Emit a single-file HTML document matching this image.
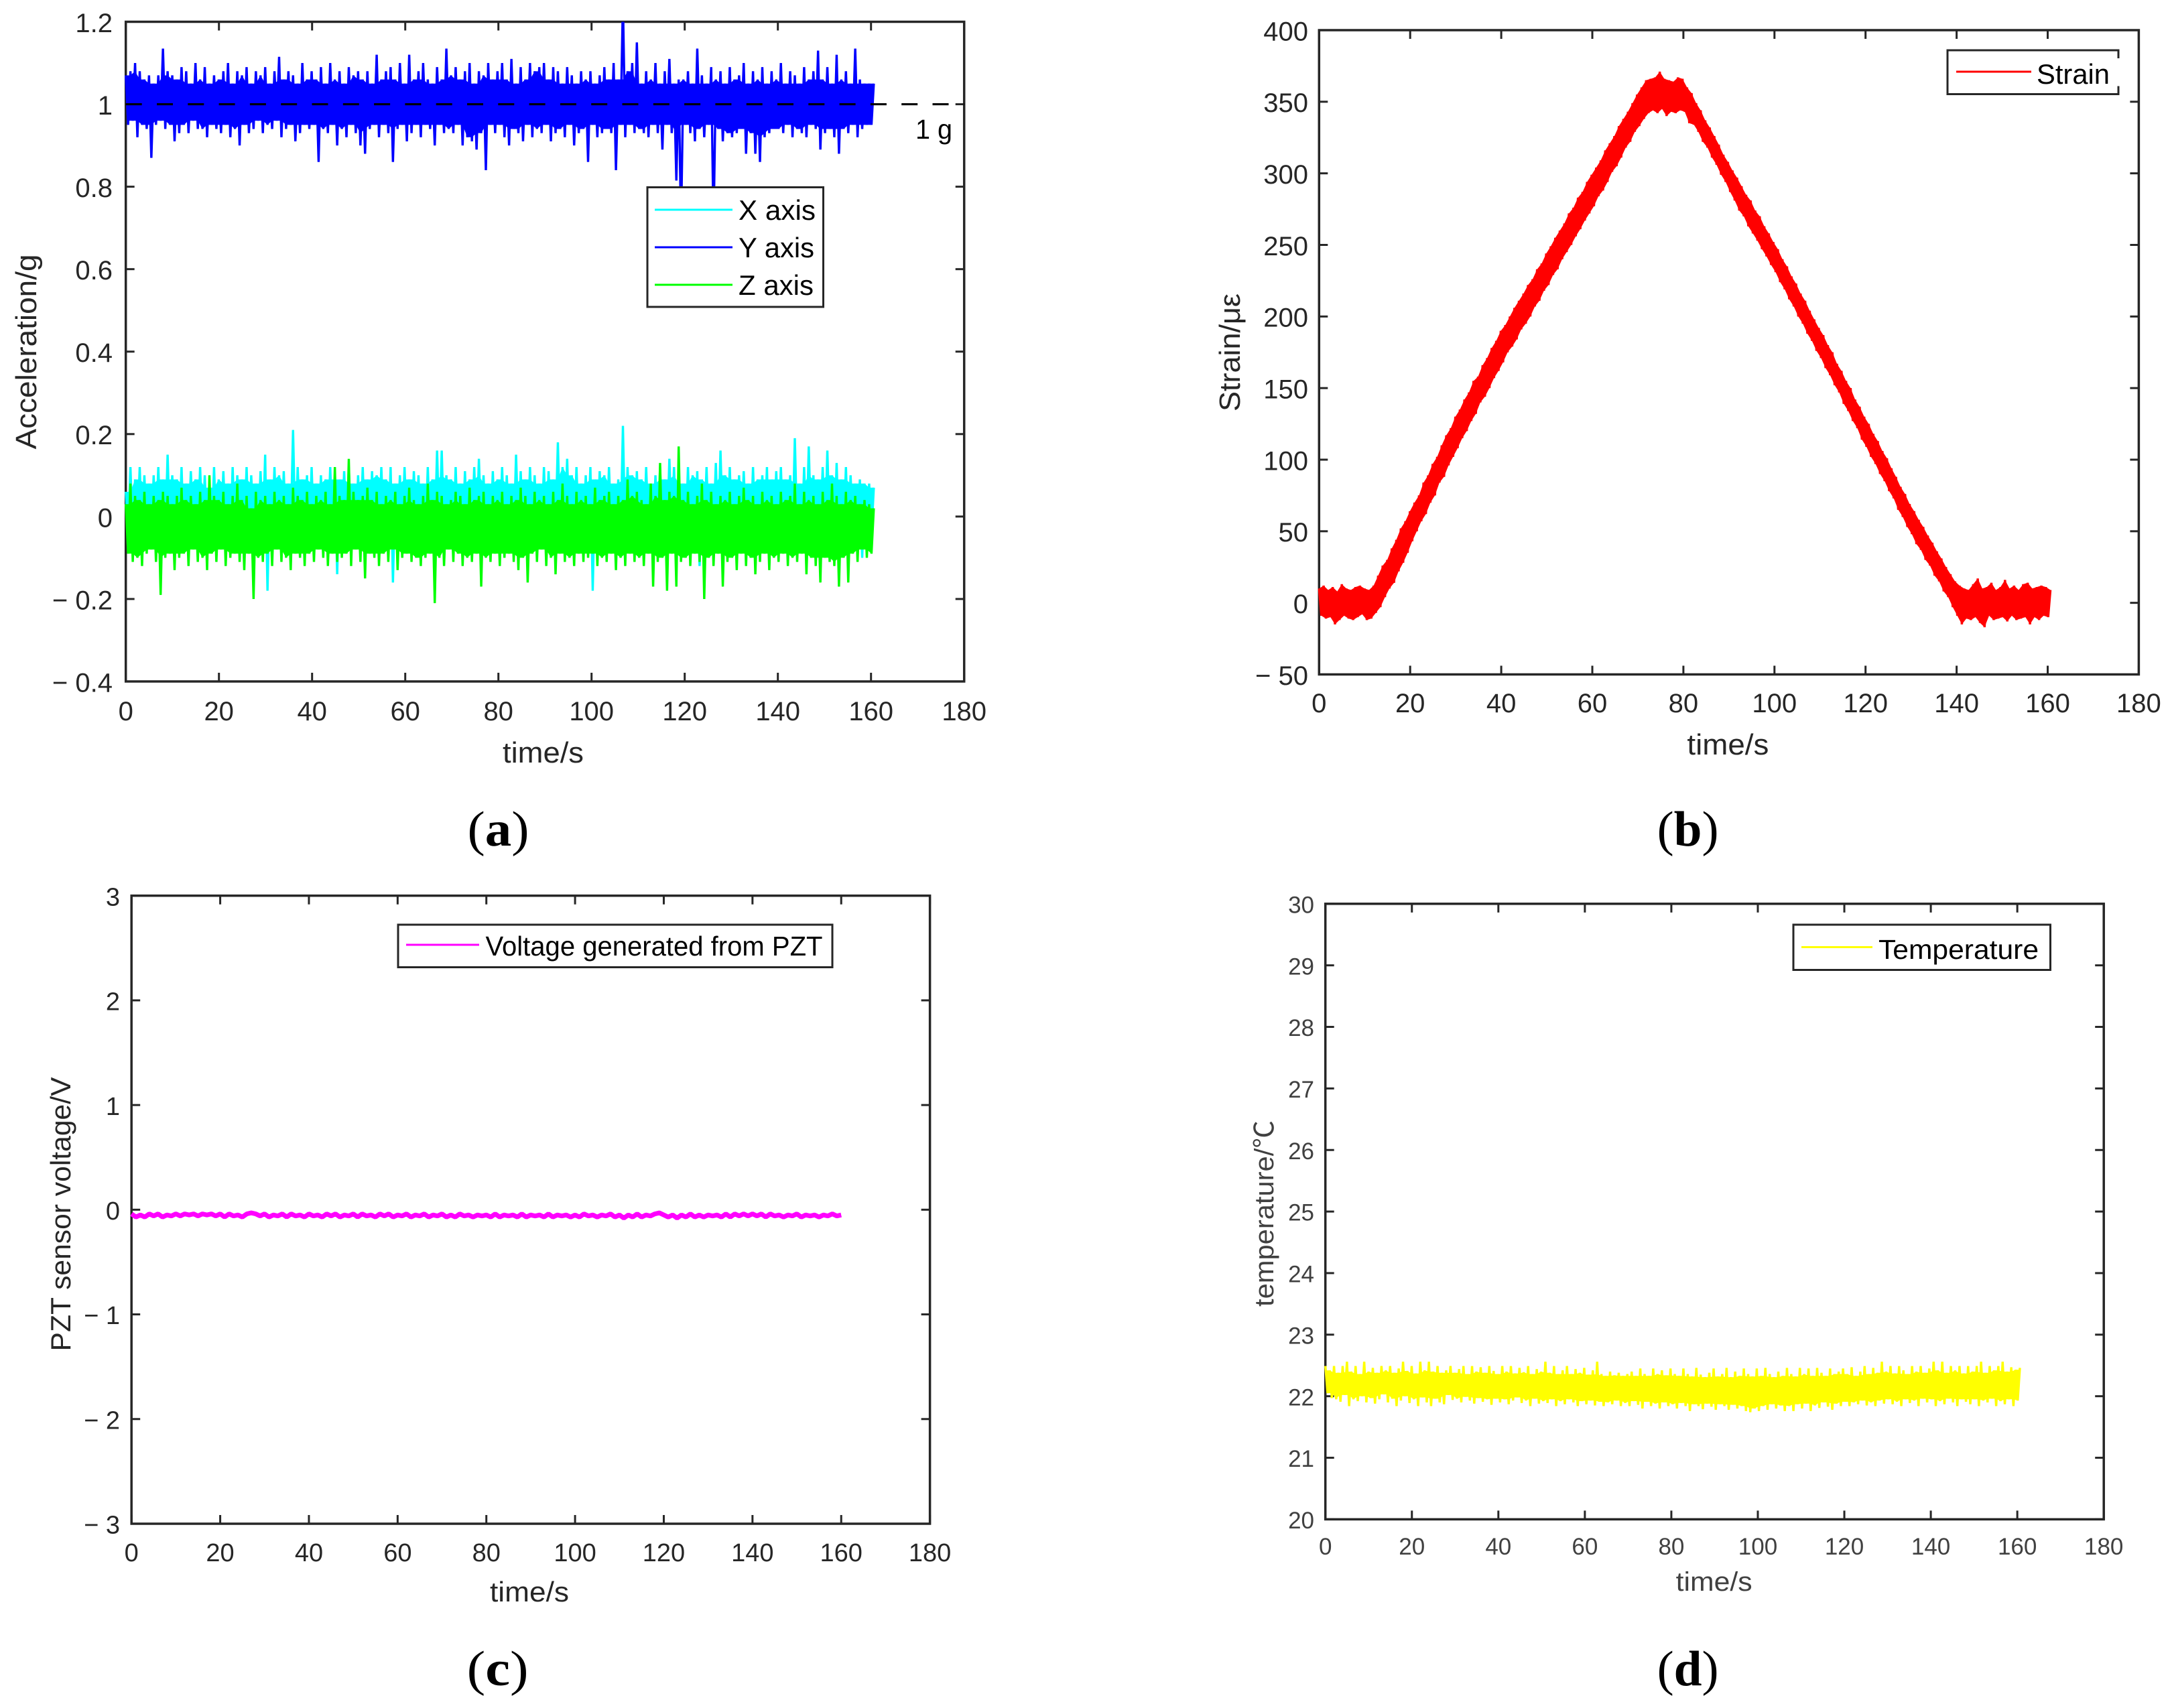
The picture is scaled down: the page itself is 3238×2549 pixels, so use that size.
<!DOCTYPE html>
<html lang="en">
<head>
<meta charset="utf-8">
<title>Sensor measurements: acceleration, strain, PZT voltage, temperature</title>
<style>
html,body{margin:0;padding:0;background:#fff;}
svg{display:block;}
text{font-family:"Liberation Sans","Noto Sans CJK SC",sans-serif;}
</style>
</head>
<body>
<svg id="fig" xmlns="http://www.w3.org/2000/svg" width="3238" height="2549" viewBox="0 0 3238 2549"></svg>
<script>
// ---------- shared axis data ----------
const timeTicks = [0,20,40,60,80,100,120,140,160,180];
const timeTickLabels = ['0','20','40','60','80','100','120','140','160','180'];
const recordDuration = 160.6;

// ---------- panel (a) acceleration ----------
const accelTicks = [-0.4,-0.2,0,0.2,0.4,0.6,0.8,1,1.2];
const accelTickLabels = ['− 0.4','− 0.2','0','0.2','0.4','0.6','0.8','1','1.2'];
const gravityReference = [1];
const accelX = [
.06,-.04,.12,-.05,.09,-.03,.12,-.05,.10,-.04,.08,-.06,.10,-.03,.12,-.04,.09,-.05,.15,-.04,
.10,-.05,.09,-.04,.12,-.06,.08,-.04,.11,-.03,.09,-.05,.12,-.04,.10,-.05,.07,-.04,.12,-.05,
.09,-.04,.11,-.03,.08,-.06,.12,-.04,.10,-.05,.09,-.04,.12,-.05,.10,-.03,.08,-.05,.11,-.04,
.15,-.18,.09,-.05,.12,-.04,.10,-.05,.11,-.06,.08,-.04,.21,-.05,.12,-.03,.09,-.05,.10,-.04,
.12,-.05,.08,-.04,.10,-.06,.09,-.05,.12,-.04,.10,-.14,.09,-.05,.11,-.04,.12,-.03,.08,-.05,
.10,-.04,.12,-.05,.09,-.06,.11,-.04,.10,-.05,.12,-.03,.09,-.05,.12,-.16,.08,-.04,.10,-.05,
.12,-.04,.09,-.05,.11,-.03,.10,-.06,.08,-.05,.12,-.04,.09,-.05,.16,-.04,.16,-.05,.10,-.03,
.09,-.05,.12,-.04,.08,-.06,.11,-.05,.09,-.04,.12,-.05,.14,-.03,.10,-.05,.08,-.04,.11,-.05,
.09,-.04,.12,-.05,.10,-.03,.08,-.05,.15,-.04,.11,-.06,.09,-.05,.12,-.04,.10,-.05,.08,-.04,
.12,-.05,.11,-.04,.09,-.03,.18,-.05,.12,-.04,.14,-.05,.10,-.06,.12,-.04,.08,-.05,.10,-.03,
.12,-.18,.09,-.05,.11,-.04,.10,-.05,.12,-.03,.08,-.04,.09,-.05,.22,-.06,.12,-.04,.10,-.05,
.11,-.04,.09,-.05,.12,-.03,.08,-.05,.10,-.04,.12,-.06,.09,-.05,.14,-.04,.12,-.05,.10,-.03,
.08,-.05,.12,-.04,.10,-.05,.11,-.12,.09,-.04,.12,-.05,.08,-.03,.13,-.05,.16,-.04,.10,-.05,
.12,-.06,.09,-.04,.10,-.05,.11,-.03,.08,-.05,.12,-.04,.09,-.05,.10,-.04,.12,-.12,.09,-.05,
.11,-.04,.12,-.05,.09,-.03,.10,-.05,.19,-.04,.08,-.06,.12,-.05,.17,-.04,.10,-.05,.09,-.03,
.12,-.05,.16,-.04,.10,-.05,.13,-.06,.09,-.04,.12,-.05,.10,-.03,.08,-.05,.09,-.10,.08,-.05,
.08,-.04,.07];
const accelY = [
1.07,.95,1.08,.96,1.10,.92,1.08,.95,1.06,.94,1.07,.87,1.05,.95,1.07,.96,1.135,.94,1.08,.95,
1.07,.91,1.06,.93,1.09,.95,1.08,.93,1.05,.96,1.10,.94,1.06,.94,1.09,.92,1.05,.95,1.07,.94,
1.06,.93,1.08,.95,1.10,.92,1.05,.94,1.08,.90,1.07,.95,1.09,.93,1.05,.94,1.08,.96,1.07,.93,
1.09,.95,1.05,.94,1.08,.96,1.115,.92,1.06,.94,1.08,.95,1.07,.91,1.05,.93,1.10,.95,1.06,.94,
1.08,.95,1.06,.86,1.09,.94,1.05,.93,1.10,.95,1.06,.90,1.08,.94,1.05,.92,1.09,.95,1.07,.93,
1.08,.90,1.06,.88,1.08,.94,1.05,.95,1.12,.92,1.06,.95,1.08,.93,1.09,.86,1.06,.94,1.10,.95,
1.05,.91,1.12,.93,1.06,.95,1.08,.92,1.10,.95,1.06,.94,1.05,.90,1.09,.95,1.06,.93,1.135,.94,
1.07,.93,1.09,.95,1.06,.90,1.08,.92,1.10,.91,1.05,.89,1.08,.93,1.07,.84,1.10,.95,1.06,.93,
1.08,.95,1.10,.92,1.06,.90,1.11,.94,1.05,.93,1.09,.91,1.06,.95,1.10,.92,1.08,.94,1.09,.93,
1.10,.95,1.06,.91,1.09,.93,1.08,.94,1.05,.92,1.09,.95,1.07,.90,1.05,.93,1.08,.94,1.06,.86,
1.08,.95,1.05,.92,1.07,.93,1.09,.94,1.06,.93,1.10,.84,1.06,.95,1.25,.92,1.08,.95,1.10,.93,
1.15,.94,1.05,.93,1.08,.92,1.06,.95,1.10,.93,1.05,.89,1.08,.95,1.11,.93,1.05,.815,1.06,.70,
1.06,.95,1.08,.93,1.05,.91,1.135,.94,1.07,.92,1.05,.95,1.09,.70,1.06,.94,1.08,.91,1.05,.93,
1.09,.92,1.06,.93,1.07,.94,1.10,.88,1.05,.93,1.08,.88,1.06,.86,1.09,.92,1.05,.93,1.08,.94,
1.06,.94,1.10,.93,1.05,.95,1.08,.92,1.07,.94,1.05,.93,1.09,.92,1.06,.95,1.08,.94,1.13,.89,
1.06,.93,1.09,.94,1.05,.92,1.12,.88,1.06,.94,1.08,.93,1.05,.95,1.135,.92,1.06,.94,1.05,.95,
1.05,.95,1.05];
const accelZ = [
.03,-.09,.08,-.11,.05,-.10,.04,-.12,.06,-.09,.03,-.08,.05,-.11,.04,-.19,.06,-.10,.05,-.09,
.03,-.13,.05,-.10,.07,-.09,.04,-.12,.05,-.08,.03,-.11,.06,-.10,.04,-.13,.10,-.09,.05,-.11,
.04,-.08,.06,-.12,.03,-.10,.05,-.09,.08,-.11,.04,-.13,.05,-.09,.02,-.20,.06,-.10,.04,-.11,
.05,-.09,.03,-.12,.06,-.08,.04,-.11,.05,-.10,.03,-.13,.07,-.09,.05,-.10,.04,-.12,.06,-.09,
.03,-.11,.05,-.08,.04,-.10,.06,-.12,.03,-.09,.12,-.11,.05,-.10,.04,-.09,.14,-.12,.06,-.08,
.04,-.11,.05,-.15,.07,-.09,.04,-.10,.06,-.12,.03,-.09,.05,-.11,.04,-.08,.06,-.13,.03,-.10,
.05,-.09,.07,-.11,.04,-.10,.03,-.12,.05,-.10,.08,-.09,.04,-.21,.06,-.10,.05,-.12,.03,-.08,
.04,-.11,.06,-.09,.05,-.12,.03,-.10,.07,-.11,.04,-.09,.05,-.17,.06,-.10,.03,-.11,.05,-.09,
.04,-.12,.06,-.10,.03,-.09,.05,-.11,.04,-.13,.07,-.10,.05,-.16,.03,-.09,.06,-.11,.04,-.08,
.05,-.12,.03,-.10,.06,-.14,.04,-.09,.08,-.11,.05,-.10,.03,-.12,.06,-.09,.04,-.11,.05,-.10,
.03,-.09,.07,-.12,.04,-.10,.05,-.11,.06,-.09,.03,-.13,.05,-.10,.04,-.12,.09,-.09,.05,-.11,
.06,-.10,.04,-.12,.03,-.09,.08,-.17,.05,-.11,.13,-.10,.04,-.18,.06,-.09,.05,-.17,.17,-.11,
.04,-.10,.06,-.12,.03,-.09,.05,-.11,.08,-.20,.04,-.10,.06,-.12,.03,-.09,.05,-.17,.04,-.11,
.06,-.10,.03,-.13,.05,-.09,.07,-.12,.04,-.10,.05,-.14,.03,-.11,.06,-.09,.04,-.13,.05,-.10,
.03,-.11,.06,-.09,.04,-.12,.05,-.10,.08,-.11,.03,-.09,.06,-.14,.04,-.10,.05,-.12,.03,-.16,
.06,-.10,.04,-.11,.08,-.12,.05,-.17,.03,-.10,.06,-.16,.04,-.09,.05,-.11,.03,-.08,.04,-.10,
.03,-.09,.02];

// ---------- panel (b) strain ----------
const strainTicks = [-50,0,50,100,150,200,250,300,350,400];
const strainTickLabels = ['− 50','0','50','100','150','200','250','300','350','400'];
const strainSeries = [
10,-9,12,-11,9,-10,11,-15,8,-12,13,-9,10,-11,9,-12,11,-10,12,-8,
10,-12,9,-11,12,-7,19,-3,26,4,30,10,38,14,44,22,52,28,57,35,
64,43,70,50,75,57,84,62,89,70,97,75,102,84,110,88,117,96,122,102,
130,108,135,115,142,120,147,127,155,132,158,140,166,144,171,150,178,157,183,162,
190,168,194,175,200,179,206,184,211,191,216,195,222,200,226,207,233,211,237,218,
244,222,249,229,255,233,260,240,265,245,272,250,276,256,283,261,287,267,294,272,
299,277,304,284,309,288,316,294,321,301,326,305,333,311,338,318,343,322,349,329,
355,333,360,338,365,342,366,344,367,342,371,345,366,340,365,343,364,342,367,344,
366,343,360,335,356,334,349,329,344,322,337,318,332,311,326,306,320,299,313,294,
308,287,302,281,297,274,291,270,285,263,281,258,274,253,270,247,263,242,258,236,
252,231,247,224,240,219,235,212,228,207,223,200,216,195,211,188,204,183,198,176,
192,171,187,164,180,159,175,152,167,147,162,139,155,134,150,127,142,122,137,114,
130,109,125,102,118,97,113,90,106,85,101,78,94,73,88,65,81,60,76,53,
69,48,64,41,58,37,53,30,47,26,42,19,36,15,31,8,25,4,20,-3,
15,-9,12,-15,10,-11,9,-12,13,-10,17,-14,10,-17,11,-9,14,-12,9,-11,
11,-10,16,-13,10,-9,12,-12,9,-11,13,-10,14,-15,10,-10,11,-12,12,-9,
11,-10,9];

// ---------- panel (c) PZT voltage ----------
const voltageTicks = [-3,-2,-1,0,1,2,3];
const voltageTickLabels = ['− 3','− 2','− 1','0','1','2','3'];
const pztDuration = 160;
const pztVoltage = [
-.04,-.07,-.05,-.07,-.04,-.06,-.04,-.07,-.05,-.06,-.04,-.06,-.04,-.05,-.04,-.06,-.04,-.05,-.04,-.06,
-.04,-.07,-.04,-.06,-.05,-.07,-.04,-.03,-.04,-.06,-.04,-.07,-.05,-.06,-.04,-.07,-.04,-.06,-.05,-.07,
-.04,-.06,-.05,-.07,-.04,-.06,-.04,-.07,-.05,-.06,-.04,-.07,-.04,-.06,-.05,-.07,-.04,-.06,-.04,-.07,
-.05,-.06,-.04,-.07,-.05,-.06,-.04,-.07,-.05,-.06,-.04,-.07,-.05,-.07,-.04,-.06,-.05,-.07,-.05,-.06,
-.05,-.07,-.04,-.07,-.05,-.06,-.05,-.07,-.04,-.07,-.05,-.06,-.05,-.07,-.04,-.07,-.05,-.06,-.05,-.07,
-.05,-.07,-.04,-.06,-.05,-.07,-.05,-.06,-.04,-.07,-.05,-.08,-.05,-.07,-.04,-.07,-.05,-.06,-.04,-.03,
-.05,-.07,-.05,-.08,-.05,-.07,-.04,-.07,-.05,-.07,-.05,-.06,-.05,-.07,-.04,-.07,-.04,-.06,-.04,-.06,
-.04,-.06,-.04,-.07,-.04,-.06,-.05,-.07,-.05,-.06,-.04,-.07,-.05,-.06,-.05,-.07,-.05,-.06,-.04,-.06,-.05];

// ---------- panel (d) temperature ----------
const temperatureTicks = [20,21,22,23,24,25,26,27,28,29,30];
const temperatureTickLabels = ['20','21','22','23','24','25','26','27','28','29','30'];
const temperatureSeries = [
22.49,22.05,22.42,21.97,22.49,21.95,22.38,21.91,22.49,22.02,22.56,21.84,22.40,21.95,22.49,21.92,22.36,22.00,22.56,21.90,
22.40,21.97,22.46,21.88,22.38,21.95,22.49,22.03,22.42,21.90,22.49,21.96,22.38,21.84,22.45,21.93,22.56,22.00,22.41,21.89,
22.49,21.95,22.37,21.84,22.56,21.98,22.42,21.90,22.56,21.84,22.40,21.96,22.49,21.90,22.38,21.87,22.42,22.02,22.49,21.94,
22.38,21.96,22.44,21.90,22.49,21.99,22.36,21.93,22.49,21.88,22.40,21.97,22.47,21.91,22.38,21.95,22.49,21.86,22.41,21.96,
22.36,21.90,22.49,21.95,22.40,21.87,22.49,21.93,22.37,21.98,22.46,21.89,22.39,21.93,22.49,21.84,22.36,21.96,22.44,21.88,
22.40,21.92,22.56,21.89,22.38,21.95,22.49,21.84,22.36,21.92,22.42,21.87,22.49,21.95,22.36,21.90,22.44,21.84,22.38,21.92,
22.46,21.87,22.35,21.93,22.42,21.85,22.56,21.91,22.36,21.84,22.33,21.90,22.40,21.87,22.34,21.93,22.38,21.84,22.33,21.89,
22.36,21.84,22.40,21.92,22.33,21.86,22.45,21.80,22.36,21.91,22.33,21.84,22.45,21.88,22.36,21.80,22.42,21.90,22.34,21.84,
22.45,21.87,22.36,21.80,22.33,21.89,22.45,21.84,22.36,21.76,22.32,21.87,22.46,21.84,22.35,21.79,22.31,21.88,22.38,21.83,
22.45,21.78,22.32,21.87,22.36,21.84,22.46,21.78,22.31,21.86,22.40,21.80,22.33,21.84,22.45,21.76,22.36,21.74,22.32,21.80,
22.45,21.76,22.33,21.84,22.46,21.78,22.36,21.87,22.31,21.80,22.40,21.85,22.33,21.76,22.46,21.84,22.36,21.76,22.32,21.87,
22.46,21.80,22.36,21.88,22.45,21.76,22.33,21.85,22.46,21.81,22.38,21.90,22.33,21.83,22.45,21.78,22.36,21.88,22.40,21.84,
22.45,21.91,22.36,21.84,22.47,21.90,22.33,21.87,22.40,21.93,22.49,21.85,22.36,21.90,22.46,21.84,22.38,21.93,22.56,21.88,
22.40,21.95,22.49,21.87,22.37,21.91,22.49,21.84,22.42,21.95,22.36,21.89,22.49,21.93,22.40,21.84,22.49,21.96,22.38,21.90,
22.45,21.95,22.56,21.84,22.42,21.92,22.56,21.87,22.38,21.96,22.49,21.90,22.42,21.84,22.49,21.95,22.37,21.91,22.49,21.87,
22.40,21.95,22.49,21.84,22.56,21.93,22.38,21.90,22.49,21.96,22.42,21.84,22.49,21.92,22.56,21.87,22.40,21.95,22.47,21.84,
22.43,21.93,22.46];

// ---------- drawing helpers ----------
const SVG_NS = 'http://www.w3.org/2000/svg';
const fig = document.getElementById('fig');

function add(parent, tag, attrs, content) {
  const node = document.createElementNS(SVG_NS, tag);
  for (const key in attrs) node.setAttribute(key, attrs[key]);
  if (content !== undefined) node.textContent = content;
  parent.appendChild(node);
  return node;
}
function linearScale(d0, d1, p0, p1) {
  return function (v) { return p0 + (v - d0) / (d1 - d0) * (p1 - p0); };
}
function signalPoints(values, duration, xs, ys) {
  return values.map(function (v, i) {
    return xs(duration * i / (values.length - 1)).toFixed(2) + ',' + ys(v).toFixed(2);
  }).join(' ');
}
// Solid core of a dense oscillating signal: even samples are the upper swings,
// odd samples the lower swings; the core is the envelope of their neighbours.
function corePoints(values, duration, xs, ys, reach) {
  const upper = [], lower = [];
  const last = values.length - 1;
  values.forEach(function (v, i) {
    let inner = v;
    for (let k = -reach; k <= reach; k++) {
      const n = values[i + 2 * k];
      if (n === undefined) continue;
      inner = (i % 2 === 0) ? Math.min(inner, n) : Math.max(inner, n);
    }
    const p = xs(duration * i / last).toFixed(2) + ',' + ys(inner).toFixed(2);
    if (i % 2 === 0) upper.push(p); else lower.unshift(p);
  });
  return upper.concat(lower).join(' ');
}

function drawAxes(o) {
  const g = add(fig, 'g', {});
  
  
  const xs = linearScale(0, 180, o.left, o.right);
  const ys = linearScale(o.yTicks[0], o.yTicks[o.yTicks.length - 1], o.bottom, o.top);

  timeTicks.forEach(function (t, i) {
    const x = xs(t);
    const tickB = add(g, 'line', {x1: x, x2: x, y1: o.bottom, y2: o.bottom - 13, stroke: '#262626', 'stroke-width': 3});
    
    
    const tickT = add(g, 'line', {x1: x, x2: x, y1: o.top, y2: o.top + 13, stroke: '#262626', 'stroke-width': 3});
    
    
    const label = add(g, 'text', {x: x, y: o.xTickBase, 'text-anchor': 'middle', 'font-size': o.tickSize, fill: o.tickColor}, timeTickLabels[i]);
    
    
  });
  o.yTicks.forEach(function (v, i) {
    const y = ys(v);
    const tickL = add(g, 'line', {x1: o.left, x2: o.left + 13, y1: y, y2: y, stroke: '#262626', 'stroke-width': 3});
    
    
    const tickR = add(g, 'line', {x1: o.right, x2: o.right - 13, y1: y, y2: y, stroke: '#262626', 'stroke-width': 3});
    
    
    const label = add(g, 'text', {x: o.yTickRight, y: y + o.tickSize * 0.36 + 1, 'text-anchor': 'end', 'font-size': o.tickSize, fill: o.tickColor}, o.yLabels[i]);
    
    
  });
  const frame = add(g, 'rect', {x: o.left, y: o.top, width: o.right - o.left, height: o.bottom - o.top, fill: 'none', stroke: '#262626', 'stroke-width': 3.5});
  
  

  const xTitle = add(g, 'text', {x: o.xTitleX, y: o.xTitleBase, 'text-anchor': 'middle', 'font-size': o.titleSize, fill: o.tickColor, textLength: o.xTitleLen, lengthAdjust: 'spacingAndGlyphs'}, 'time/s');
  
  
  const yTitle = add(g, 'text', {transform: 'translate(' + o.yTitleX + ',' + o.yTitleY + ') rotate(-90)', 'text-anchor': 'middle', 'font-size': o.titleSize, fill: o.tickColor, textLength: o.yTitleLen, lengthAdjust: 'spacingAndGlyphs'}, o.yTitle);
  
  

  const clip = add(fig, 'clipPath', {id: o.id + '-clip'});
  add(clip, 'rect', {x: o.left - 4, y: o.top, width: o.right - o.left + 8, height: o.bottom - o.top});
  return {xs: xs, ys: ys};
}

function drawSeries(o, sc, values, duration, color, width, name, reach) {
  const core = add(fig, 'polygon', {
    points: corePoints(values, duration, sc.xs, sc.ys, reach),
    fill: color, stroke: 'none',
    'clip-path': 'url(#' + o.id + '-clip)'
  });
  
  
  const line = add(fig, 'polyline', {
    points: signalPoints(values, duration, sc.xs, sc.ys),
    fill: 'none', stroke: color, 'stroke-width': width,
    'stroke-linejoin': 'bevel', 'stroke-linecap': 'butt',
    'clip-path': 'url(#' + o.id + '-clip)'
  });
  
  
  return line;
}

function drawLegendBox(o, g) {
  if (o.broken) {
    const box = add(g, 'rect', {x: o.x0, y: o.y0, width: o.x1 - o.x0, height: o.y1 - o.y0, fill: '#fff', stroke: 'none'});
    
    
    const d = 'M' + o.x1 + ' ' + (o.y0 + 12) + 'V' + o.y0 + 'H' + o.x0 + 'V' + o.y1 + 'H' + o.x1 + 'V' + (o.y1 - 12);
    const border = add(g, 'path', {d: d, fill: 'none', stroke: '#262626', 'stroke-width': 3});
    
    
  } else {
    const box = add(g, 'rect', {x: o.x0, y: o.y0, width: o.x1 - o.x0, height: o.y1 - o.y0, fill: '#fff', stroke: '#262626', 'stroke-width': 3});
    
    
  }
}

function drawLegendEntry(g, e) {
  const swatch = add(g, 'line', {x1: e.lineX0, x2: e.lineX1, y1: e.lineY, y2: e.lineY, stroke: e.color, 'stroke-width': 3});
  
  
  const label = add(g, 'text', {x: e.textX, y: e.textBase, 'font-size': e.size, fill: '#000', textLength: e.textLen, lengthAdjust: 'spacingAndGlyphs'}, e.label);
  
  
}

function drawCaption(letter, x, base, name) {
  const t = add(fig, 'text', {x: x, y: base, 'text-anchor': 'middle', 'font-size': 74, fill: '#000', textLength: 92, lengthAdjust: 'spacingAndGlyphs', style: 'font-family:"Liberation Serif",serif;'});
  
  
  add(t, 'tspan', {}, '(');
  add(t, 'tspan', {'font-weight': 'bold'}, letter);
  add(t, 'tspan', {}, ')');
}

// ---------- panel (a) ----------
const panelA = {id: 'panel-a', left: 187.7, right: 1438.7, top: 32.5, bottom: 1017, yTicks: accelTicks, yLabels: accelTickLabels,
  xTickBase: 1075, yTickRight: 168, tickSize: 40, tickColor: '#262626', titleSize: 44,
  xTitleX: 810.5, xTitleBase: 1138, xTitleLen: 121, yTitle: 'Acceleration/g', yTitleX: 54, yTitleY: 525, yTitleLen: 291};
const scA = drawAxes(panelA);
drawSeries(panelA, scA, accelX, recordDuration, '#00ffff', 3.4, 'x-axis-acceleration-trace', 1);
drawSeries(panelA, scA, accelY, recordDuration, '#0000ff', 3.4, 'y-axis-acceleration-trace', 1);
drawSeries(panelA, scA, accelZ, recordDuration, '#00ff00', 3.4, 'z-axis-acceleration-trace', 1);
const refLine = add(fig, 'line', {x1: panelA.left, x2: panelA.right, y1: scA.ys(gravityReference[0]), y2: scA.ys(gravityReference[0]), stroke: '#000', 'stroke-width': 3.2, 'stroke-dasharray': '24 22.3'});


const oneG = add(fig, 'text', {x: 1366, y: 207, 'font-size': 41, fill: '#000', textLength: 55, lengthAdjust: 'spacingAndGlyphs'}, '1 g');


const legendA = add(fig, 'g', {});


drawLegendBox({x0: 966, x1: 1228.5, y0: 279.5, y1: 458}, legendA);
drawLegendEntry(legendA, {lineX0: 977, lineX1: 1093, lineY: 313, color: '#00ffff', textX: 1102, textBase: 328, size: 42, textLen: 115, label: 'X axis'});
drawLegendEntry(legendA, {lineX0: 977, lineX1: 1093, lineY: 369, color: '#0000ff', textX: 1102, textBase: 384, size: 42, textLen: 113, label: 'Y axis'});
drawLegendEntry(legendA, {lineX0: 977, lineX1: 1093, lineY: 425, color: '#00ff00', textX: 1102, textBase: 440, size: 42, textLen: 112, label: 'Z axis'});
drawCaption('a', 743.5, 1262, 'panel-a-caption');

// ---------- panel (b) ----------
const panelB = {id: 'panel-b', left: 1968.3, right: 3191.4, top: 45, bottom: 1006.5, yTicks: strainTicks, yLabels: strainTickLabels,
  xTickBase: 1063, yTickRight: 1952, tickSize: 40, tickColor: '#262626', titleSize: 44,
  xTitleX: 2578.4, xTitleBase: 1126, xTitleLen: 122, yTitle: 'Strain/με', yTitleX: 1850, yTitleY: 526, yTitleLen: 176};
const scB = drawAxes(panelB);
drawSeries(panelB, scB, strainSeries, recordDuration, '#ff0000', 3.4, 'strain-trace', 0);
const legendB = add(fig, 'g', {});


drawLegendBox({x0: 2906, x1: 3161, y0: 75, y1: 140.5, broken: true}, legendB);
drawLegendEntry(legendB, {lineX0: 2919, lineX1: 3031, lineY: 107, color: '#ff0000', textX: 3039, textBase: 125, size: 42, textLen: 109, label: 'Strain'});
drawCaption('b', 2518.6, 1262, 'panel-b-caption');

// ---------- panel (c) ----------
const panelC = {id: 'panel-c', left: 196.2, right: 1387.6, top: 1336.7, bottom: 2274, yTicks: voltageTicks, yLabels: voltageTickLabels,
  xTickBase: 2330, yTickRight: 179, tickSize: 38, tickColor: '#262626', titleSize: 42,
  xTitleX: 790, xTitleBase: 2390, xTitleLen: 118, yTitle: 'PZT sensor voltage/V', yTitleX: 105, yTitleY: 1812, yTitleLen: 409};
const scC = drawAxes(panelC);
drawSeries(panelC, scC, pztVoltage, pztDuration, '#ff00ff', 7, 'pzt-voltage-trace', 0);
const legendC = add(fig, 'g', {});


drawLegendBox({x0: 594, x1: 1242, y0: 1380, y1: 1443.5}, legendC);
drawLegendEntry(legendC, {lineX0: 606, lineX1: 715, lineY: 1410, color: '#ff00ff', textX: 724.5, textBase: 1426, size: 41, textLen: 503, label: 'Voltage generated from PZT'});
drawCaption('c', 742.6, 2515, 'panel-c-caption');

// ---------- panel (d) ----------
const panelD = {id: 'panel-d', left: 1977.7, right: 3139.2, top: 1348.8, bottom: 2267.4, yTicks: temperatureTicks, yLabels: temperatureTickLabels,
  xTickBase: 2320, yTickRight: 1961, tickSize: 35, tickColor: '#404040', titleSize: 40,
  xTitleX: 2557.6, xTitleBase: 2374, xTitleLen: 114, yTitle: 'temperature/℃', yTitleX: 1900, yTitleY: 1811, yTitleLen: 278};
const scD = drawAxes(panelD);
drawSeries(panelD, scD, temperatureSeries, recordDuration, '#ffff00', 3.4, 'temperature-trace', 1);
const legendD = add(fig, 'g', {});


drawLegendBox({x0: 2676, x1: 3059.5, y0: 1380, y1: 1447.5}, legendD);
drawLegendEntry(legendD, {lineX0: 2688, lineX1: 2794, lineY: 1413.5, color: '#ffff00', textX: 2803, textBase: 1431, size: 41, textLen: 239, label: 'Temperature'});
drawCaption('d', 2518.6, 2515, 'panel-d-caption');
</script>
</body>
</html>
